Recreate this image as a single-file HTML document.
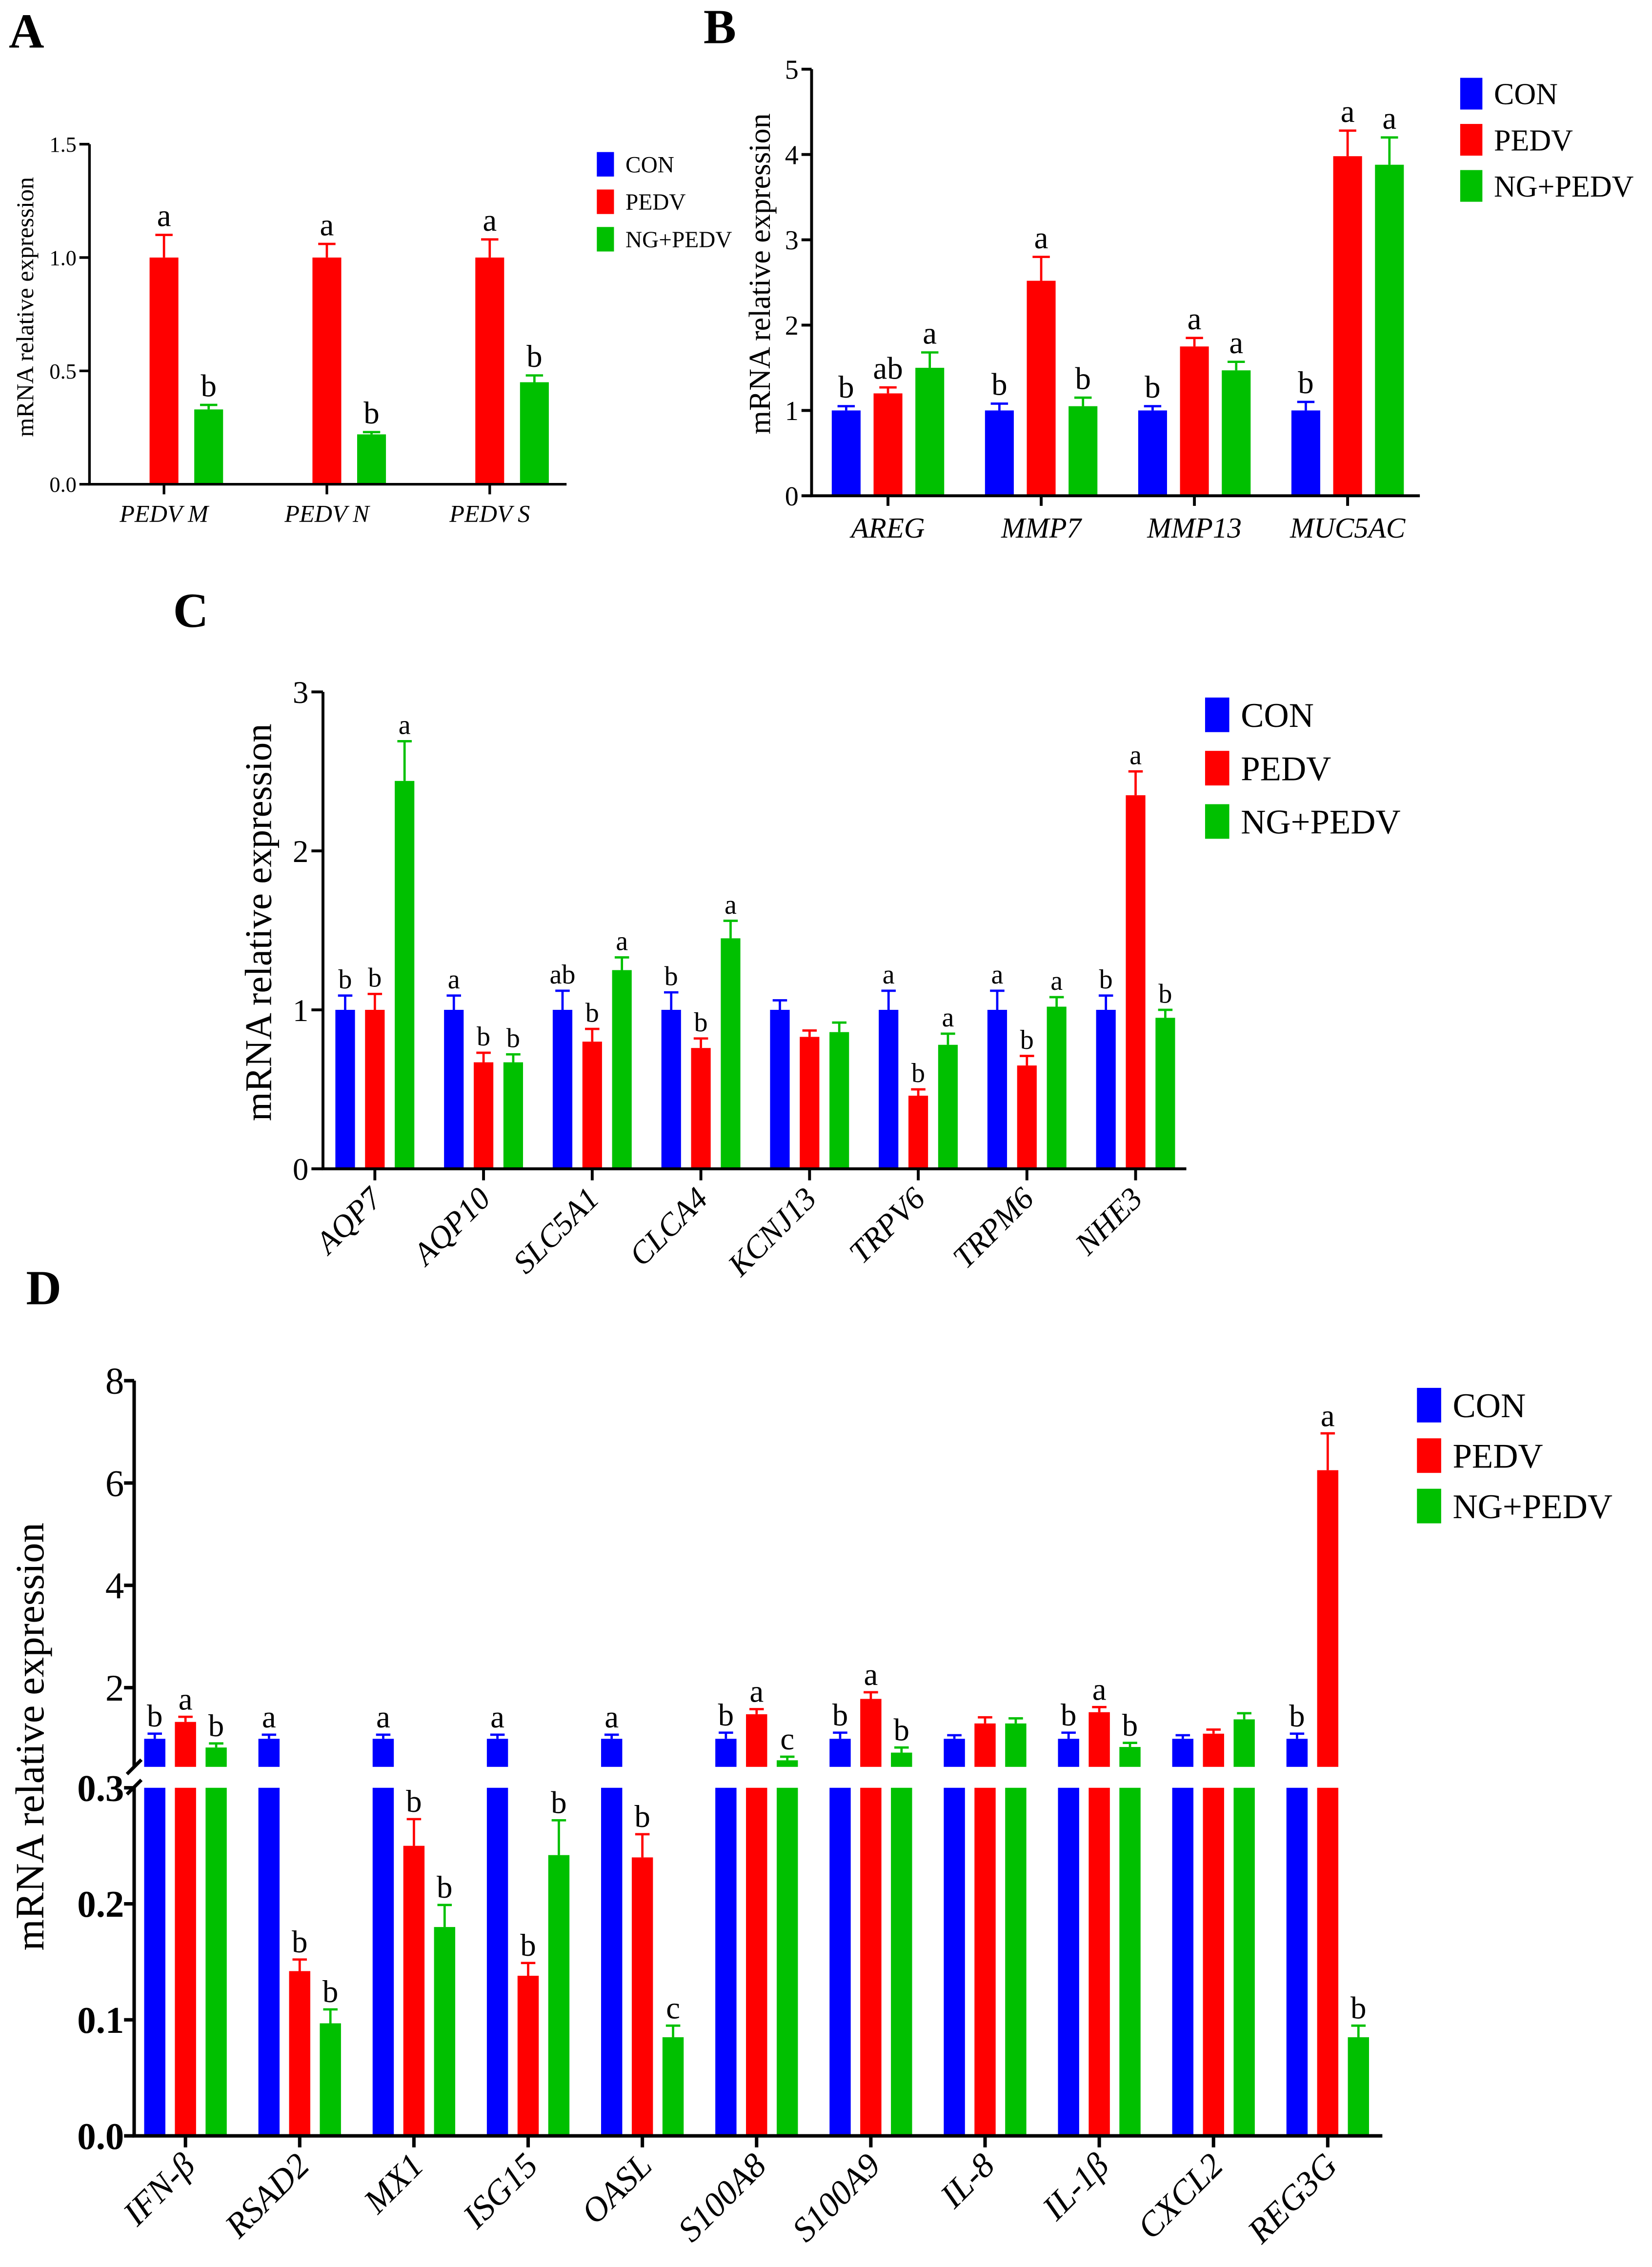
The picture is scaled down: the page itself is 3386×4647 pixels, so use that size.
<!DOCTYPE html>
<html><head><meta charset="utf-8">
<style>
html,body{margin:0;padding:0;background:#fff;}
svg{display:block;font-family:"Liberation Serif",serif;}
</style></head>
<body>
<svg id="fig" width="3386" height="4647" viewBox="0 0 1146 1573" xmlns="http://www.w3.org/2000/svg">
<rect width="1146" height="1573" fill="#fff"/>
<g id="root"></g>
</svg>
<script>
// ---------- DATA ----------
const seriesNames = ["CON","PEDV","NG+PEDV"];
const colors = ["#0000ff","#ff0000","#00c000"];

const catsA = ["PEDV M","PEDV N","PEDV S"];
const conA = [0,0,0];
const pedvA = [1.0,1.0,1.0];
const ngA = [0.33,0.22,0.45];
const errConA = [0,0,0];
const errPedvA = [0.1,0.06,0.08];
const errNgA = [0.02,0.01,0.03];
const lettersA = [["","a","b"],["","a","b"],["","a","b"]];
const ticksA = ["0.0","0.5","1.0","1.5"];

const catsB = ["AREG","MMP7","MMP13","MUC5AC"];
const conB = [1,1,1,1];
const pedvB = [1.2,2.52,1.75,3.98];
const ngB = [1.5,1.05,1.47,3.88];
const errConB = [0.05,0.08,0.05,0.1];
const errPedvB = [0.07,0.28,0.1,0.3];
const errNgB = [0.18,0.1,0.1,0.32];
const lettersB = [["b","ab","a"],["b","a","b"],["b","a","a"],["b","a","a"]];
const ticksB = ["0","1","2","3","4","5"];

const catsC = ["AQP7","AQP10","SLC5A1","CLCA4","KCNJ13","TRPV6","TRPM6","NHE3"];
const conC = [1,1,1,1,1,1,1,1];
const pedvC = [1,0.67,0.8,0.76,0.83,0.46,0.65,2.35];
const ngC = [2.44,0.67,1.25,1.45,0.86,0.78,1.02,0.95];
const errConC = [0.09,0.09,0.12,0.11,0.06,0.12,0.12,0.09];
const errPedvC = [0.1,0.06,0.08,0.06,0.04,0.04,0.06,0.15];
const errNgC = [0.25,0.05,0.08,0.11,0.06,0.07,0.06,0.05];
const lettersC = [["b","b","a"],["a","b","b"],["ab","b","a"],["b","b","a"],["","",""],["a","b","a"],["a","b","a"],["b","a","b"]];
const ticksC = ["0","1","2","3"];

const catsD = ["IFN-β","RSAD2","MX1","ISG15","OASL","S100A8","S100A9","IL-8","IL-1β","CXCL2","REG3G"];
const conD = [1,1,1,1,1,1,1,1,1,1,1];
const pedvD = [1.33,0.142,0.25,0.138,0.24,1.48,1.78,1.3,1.52,1.1,6.25];
const ngD = [0.83,0.097,0.18,0.242,0.085,0.58,0.73,1.3,0.84,1.38,0.085];
const errConD = [0.1,0.08,0.08,0.08,0.08,0.12,0.12,0.07,0.12,0.07,0.1];
const errPedvD = [0.1,0.01,0.023,0.011,0.02,0.1,0.13,0.12,0.1,0.08,0.72];
const errNgD = [0.08,0.012,0.019,0.03,0.01,0.07,0.1,0.1,0.08,0.12,0.01];
const lettersD = [["b","a","b"],["a","b","b"],["a","b","b"],["a","b","b"],["a","b","c"],["b","a","c"],["b","a","b"],["","",""],["b","a","b"],["","",""],["b","a","b"]];
const ticksDLow = ["0.0","0.1","0.2","0.3"];
const ticksDHigh = ["2","4","6","8"];

// ---------- HELPERS ----------
const NS="http://www.w3.org/2000/svg";
const root=document.getElementById('root');
function mk(tag,attrs,parent,text){
  const e=document.createElementNS(NS,tag);
  for(const k in attrs) e.setAttribute(k,attrs[k]);
  if(text!==undefined) e.textContent=text;
  (parent||root).appendChild(e);
  return e;
}

function panel(cfg, cats, vals, errs, letters, ticks){
  const g=mk('g',{});
  
  
  const y=v=>cfg.y0-(v-cfg.vmin)*cfg.ppu;
  const x=i=>cfg.gx0+i*cfg.gstep;
  const pl=mk('text',{x:cfg.lx,y:cfg.ly,'font-size':cfg.lsize,'font-weight':'bold'},g,cfg.letter);
  
  
  for(let i=0;i<cats.length;i++){
    for(let s=0;s<3;s++){
      const v=vals[s][i]; if(v<=0) continue;
      const cx=x(i)+(s-1)*cfg.off;
      const r=mk('rect',{x:cx-cfg.bw/2,y:y(v),width:cfg.bw,height:cfg.y0-y(v),fill:colors[s]},g);
      
      
      const ye=y(v+errs[s][i]);
      mk('path',{d:`M${cx} ${y(v)}V${ye}M${cx-cfg.cap} ${ye}H${cx+cfg.cap}`,stroke:colors[s],'stroke-width':1.6,fill:'none'},g);
      if(letters[i][s]){
        const t=mk('text',{x:cx,y:ye-cfg.lgap,'font-size':cfg.fsLet,'text-anchor':'middle'},g,letters[i][s]);
        
        
      }
    }
  }
  mk('path',{d:`M${cfg.ax} ${y(cfg.vmax)}V${cfg.y0}H${cfg.axEnd}`,stroke:'#000','stroke-width':cfg.aw,fill:'none'},g);
  ticks.forEach(t=>{
    const v=parseFloat(t), yy=y(v);
    mk('path',{d:`M${cfg.ax-cfg.tl} ${yy}H${cfg.ax}`,stroke:'#000','stroke-width':cfg.aw},g);
    const tt=mk('text',{x:cfg.ax-cfg.tl-2,y:yy+cfg.fsTick*0.35,'font-size':cfg.fsTick,'text-anchor':'end'},g,t);
    
    
  });
  cats.forEach((c,i)=>{
    mk('path',{d:`M${x(i)} ${cfg.y0}V${cfg.y0+cfg.tl}`,stroke:'#000','stroke-width':cfg.aw},g);
    let t;
    if(cfg.rot){
      const tx=x(i)+6, ty=cfg.y0+cfg.tl+14;
      t=mk('text',{x:tx,y:ty,'font-size':cfg.fsCat,'font-style':'italic','text-anchor':'end',transform:`rotate(-45 ${tx} ${ty})`},g,c);
    } else {
      t=mk('text',{x:x(i),y:cfg.y0+cfg.tl+cfg.fsCat+2,'font-size':cfg.fsCat,'font-style':'italic','text-anchor':'middle'},g,c);
    }
    
    
  });
  const yt=mk('text',{x:cfg.ytx,y:cfg.yty,'font-size':cfg.fsY,'text-anchor':'middle',transform:`rotate(-90 ${cfg.ytx} ${cfg.yty})`},g,'mRNA relative expression');
  
  
  legend(g,cfg.legX,cfg.legY,cfg.legStep,cfg.legSq,cfg.fsLeg);
}
function legend(g,lx,ly,step,sq,fs){
  seriesNames.forEach((n,s)=>{
    const r=mk('rect',{x:lx,y:ly+s*step-sq/2,width:sq*0.7,height:sq,fill:colors[s]},g);
    
    
    const t=mk('text',{x:lx+sq*0.7+8,y:ly+s*step+fs*0.35,'font-size':fs},g,n);
    
    
  });
}

// Panel A
panel({name:'panel-a',letter:'A',lx:6,ly:33,lsize:34,y0:336,vmin:0,vmax:1.5,ppu:157.3,gx0:113.7,gstep:113,off:31,bw:20,cap:6,lgap:6,
  ax:62,axEnd:393,aw:1.8,tl:7,fsTick:15,fsCat:17,fsLet:22,ytx:23,yty:213,fsY:17,rot:false,
  legX:414,legY:114,legStep:26,legSq:17,fsLeg:16},
  catsA,[conA,pedvA,ngA],[errConA,errPedvA,errNgA],lettersA,ticksA);

// Panel B
panel({name:'panel-b',letter:'B',lx:488,ly:30,lsize:34,y0:344,vmin:0,vmax:5,ppu:59.2,gx0:616,gstep:106.3,off:29,bw:20,cap:6,lgap:6,
  ax:563,axEnd:985,aw:2,tl:7,fsTick:19,fsCat:20,fsLet:22,ytx:534,yty:190,fsY:21,rot:false,
  legX:1013,legY:65,legStep:32,legSq:22,fsLeg:21},
  catsB,[conB,pedvB,ngB],[errConB,errPedvB,errNgB],lettersB,ticksB);

// Panel C
panel({name:'panel-c',letter:'C',lx:120,ly:435,lsize:34,y0:811,vmin:0,vmax:3,ppu:110.3,gx0:260,gstep:75.4,off:20.6,bw:13.6,cap:5,lgap:5,
  ax:224,axEnd:823,aw:2,tl:8,fsTick:22,fsCat:22,fsLet:19,ytx:188,yty:640,fsY:26,rot:true,
  legX:836,legY:496,legStep:37,legSq:24,fsLeg:24},
  catsC,[conC,pedvC,ngC],[errConC,errPedvC,errNgC],lettersC,ticksC);

// Panel D (broken axis)
(function(){
  const g=mk('g',{});
  
  
  const pl=mk('text',{x:18,y:905,'font-size':34,'font-weight':'bold'},g,'D');
  
  
  const y0=1482, yLo=v=>y0-v*805, yHi=v=>1242-v*35.5, brLo=1240, brHi=1226;
  const ax=93, gx=i=>128.6+i*79.25, off=21.3, bw=14.7;
  const vals=[conD,pedvD,ngD], errs=[errConD,errPedvD,errNgD];
  for(let i=0;i<catsD.length;i++){
    for(let s=0;s<3;s++){
      const v=vals[s][i], e=errs[s][i], cx=gx(i)+(s-1)*off;
      const r=mk('rect',{x:cx-bw/2,y:yLo(Math.min(v,0.3)),width:bw,height:y0-yLo(Math.min(v,0.3)),fill:colors[s]},g);
      
      
      let top;
      if(v>0.3){
        const yt=yHi(v);
        if(yt<brHi){
          const r2=mk('rect',{x:cx-bw/2,y:yt,width:bw,height:brHi-yt,fill:colors[s]},g);
          
          
        }
        top=yHi(v+e);
        mk('path',{d:`M${cx} ${yt}V${top}M${cx-5} ${top}H${cx+5}`,stroke:colors[s],'stroke-width':1.6,fill:'none'},g);
      } else {
        top=yLo(v+e);
        mk('path',{d:`M${cx} ${yLo(v)}V${top}M${cx-5} ${top}H${cx+5}`,stroke:colors[s],'stroke-width':1.6,fill:'none'},g);
      }
      if(lettersD[i][s]){
        const t=mk('text',{x:cx,y:top-5,'font-size':22,'text-anchor':'middle'},g,lettersD[i][s]);
        
        
      }
    }
  }
  mk('rect',{x:ax+2,y:brHi,width:880,height:brLo-brHi,fill:'#fff'},g);
  mk('path',{d:`M${ax} ${yHi(8)}V${brHi}M${ax} ${brLo}V${y0}H959`,stroke:'#000','stroke-width':2.4,fill:'none'},g);
  mk('path',{d:`M${ax-5} ${brHi+5}L${ax+5} ${brHi-5}M${ax-5} ${brLo+5}L${ax+5} ${brLo-5}`,stroke:'#000','stroke-width':2.4},g);
  ticksDLow.forEach(t=>{
    const yy=yLo(parseFloat(t));
    mk('path',{d:`M${ax-7} ${yy}H${ax}`,stroke:'#000','stroke-width':2.4},g);
    const tt=mk('text',{x:ax-7,y:yy+9,'font-size':26,'font-weight':'bold','text-anchor':'end'},g,t);
    
    
  });
  ticksDHigh.forEach(t=>{
    const yy=yHi(parseFloat(t));
    mk('path',{d:`M${ax-7} ${yy}H${ax}`,stroke:'#000','stroke-width':2.4},g);
    const tt=mk('text',{x:ax-7,y:yy+9,'font-size':26,'text-anchor':'end'},g,t);
    
    
  });
  catsD.forEach((c,i)=>{
    mk('path',{d:`M${gx(i)} ${y0}V${y0+8}`,stroke:'#000','stroke-width':2.4},g);
    const tx=gx(i)+8, ty=y0+22;
    const t=mk('text',{x:tx,y:ty,'font-size':24,'font-style':'italic','text-anchor':'end',transform:`rotate(-45 ${tx} ${ty})`},g,c);
    
    
  });
  const yt=mk('text',{x:30,y:1205,'font-size':28,'text-anchor':'middle',transform:'rotate(-90 30 1205)'},g,'mRNA relative expression');
  
  
  legend(g,983,975,35,24,24);
})();
</script>
</body></html>
